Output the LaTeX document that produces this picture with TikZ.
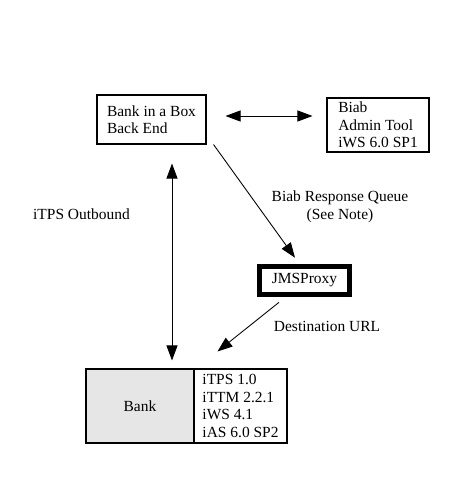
\documentclass[tikz,border=0pt]{standalone}
\usepackage{fontspec}
\setmainfont{Liberation Serif}
\usepackage{xcolor}
\usetikzlibrary{arrows.meta, positioning}
\definecolor{bankfill}{HTML}{E6E6E6}

\begin{document}
\begin{tikzpicture}[
    every node/.style={font=\fontsize{8.8}{10}\selectfont},
    box/.style={draw, line width=0.6pt, align=left, inner sep=0pt},
    proxy/.style={draw, line width=3.2pt, minimum width=1.8cm, minimum height=0.56cm, inner sep=0pt},
    lbl/.style={align=center, inner sep=0pt},
    link/.style={-{Triangle[length=0.3cm, width=0.22cm]}, line width=0.5pt},
    both/.style={{Triangle[length=0.3cm, width=0.22cm]}-{Triangle[length=0.3cm, width=0.22cm]}, line width=0.5pt}
]
\useasboundingbox (0,0) rectangle (9.48,-9.82);

% back end
\node[box, minimum width=2.18cm, minimum height=0.98cm] (backend) at (3.03,-2.39) {Bank in a Box\\Back End};

% admin tool
\node[box, minimum width=2.04cm, minimum height=1.08cm] (admin) at (7.56,-2.50) {Biab\\Admin Tool\\iWS 6.0 SP1};

% proxy
\node[proxy] (proxy) at (6.09,-5.61) {JMSProxy};

% bank
\node[box, fill=bankfill, minimum width=2.16cm, minimum height=1.48cm] (bank) at (2.80,-8.12) {Bank};
\node[box, minimum width=1.86cm, minimum height=1.48cm, right=-0.6pt of bank] (stack) {iTPS 1.0\\iTTM 2.2.1\\iWS 4.1\\iAS 6.0 SP2};

% labels
\node[lbl] (outbound) at (1.63,-4.28) {iTPS Outbound};
\node[lbl] (queue) at (6.80,-4.13) {Biab Response Queue\\(See Note)};
\node[lbl] (desturl) at (6.54,-6.52) {Destination URL};

% connectors
\coordinate (hz) at ([yshift=0.07cm]backend.east);
\draw[both, shorten <=0.38cm, shorten >=0.28cm] (hz) -- (hz -| admin.west);
\coordinate (vt) at ([xshift=0.41cm]backend.south);
\draw[both, shorten <=0.38cm, shorten >=0.16cm] (vt) -- (vt |- bank.north);
\draw[link] ([xshift=0.14cm]backend.south east) -- ([shift={(-0.19cm,0.12cm)}]proxy.north);
\draw[link] ([shift={(-0.51cm,-0.1cm)}]proxy.south) -- ([shift={(0.48cm,0.34cm)}]stack.north west);

\end{tikzpicture}
\end{document}
